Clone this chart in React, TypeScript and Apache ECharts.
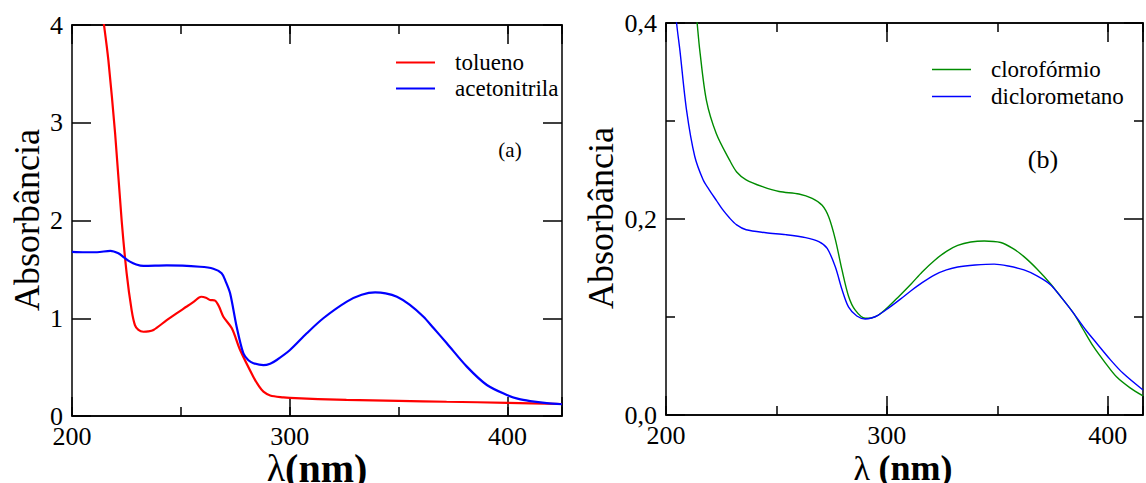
import React, { useEffect, useRef } from "react";
import * as echarts from "echarts";

const FONT = "'Liberation Serif', 'Times New Roman', Times, 'DejaVu Serif', serif";

// (a) left panel: wavelength (nm), absorbance
const tolueno: number[][] = [
  [211, 4.6], [214.7, 4.0], [216.7, 3.64], [219.8, 2.89], [222.8, 2.0], [225.1, 1.46],
  [227.4, 1.08], [228.9, 0.93], [230.5, 0.88], [232.8, 0.862], [235, 0.865], [237.4, 0.88],
  [243.5, 0.98], [248, 1.05], [252.7, 1.12], [256, 1.17], [259.3, 1.22], [261.5, 1.21],
  [263.4, 1.187], [265.7, 1.18], [267.5, 1.12], [269.5, 1.016], [273.4, 0.897], [277.2, 0.675],
  [283.3, 0.4], [286, 0.3], [287.9, 0.249], [291, 0.21], [297.1, 0.19], [300, 0.185],
  [326, 0.164], [350, 0.155], [372, 0.146], [400, 0.135], [425, 0.123],
];

const acetonitrila: number[][] = [
  [200, 1.68], [206, 1.675], [211.5, 1.675], [217.6, 1.69], [221.3, 1.664], [224, 1.62],
  [226.6, 1.579], [229.5, 1.55], [232.8, 1.535], [243.5, 1.54], [258.8, 1.527], [264.9, 1.507],
  [268.7, 1.46], [270.5, 1.38], [272.6, 1.255], [275.6, 0.914], [278.7, 0.64], [281, 0.57],
  [283.3, 0.54], [287.9, 0.52], [291, 0.535], [294, 0.573], [300.1, 0.675], [307.8, 0.846],
  [315.4, 1.0], [326.2, 1.17], [333, 1.24], [339.2, 1.265], [344, 1.255], [349.2, 1.22],
  [355, 1.14], [361.4, 1.016], [366, 0.9], [372.1, 0.744], [381.3, 0.505], [390.5, 0.317],
  [399.7, 0.215], [405, 0.175], [410.4, 0.153], [418, 0.132], [425, 0.12],
];

// (b) right panel
const cloroformio: number[][] = [
  [212, 0.45], [214.1, 0.4], [215.3, 0.372], [218.3, 0.321], [222.8, 0.287], [228.8, 0.26],
  [232, 0.248], [236.3, 0.24], [243.7, 0.233], [251.2, 0.228], [260.2, 0.2255], [266.2, 0.221],
  [270.7, 0.214], [273.7, 0.202], [276.7, 0.179], [279.7, 0.148], [282.7, 0.121], [285.7, 0.107],
  [290.2, 0.0987], [293, 0.099], [296.2, 0.102], [300.7, 0.1105], [305, 0.12], [311.1, 0.134],
  [316, 0.146], [321.7, 0.158], [327, 0.167], [332.1, 0.173], [338, 0.1765], [344.1, 0.1776],
  [351.6, 0.176], [357, 0.17], [362.1, 0.1616], [368, 0.149], [374.1, 0.134], [379, 0.12],
  [384.6, 0.1037], [389, 0.087], [393.6, 0.0697], [399, 0.053], [404, 0.039], [410, 0.028],
  [416, 0.0195],
];

const diclorometano: number[][] = [
  [203, 0.45], [204.8, 0.4], [206.3, 0.372], [209.3, 0.311], [213, 0.264], [216.8, 0.24],
  [219.5, 0.23], [222.8, 0.219], [225.5, 0.21], [228.8, 0.201], [232, 0.194], [236.3, 0.189],
  [245.3, 0.186], [254.2, 0.184], [263.2, 0.181], [269.2, 0.177], [273, 0.17], [276.7, 0.151],
  [279.7, 0.128], [282.7, 0.11], [286.4, 0.101], [290.2, 0.098], [293, 0.099], [296.2, 0.102],
  [300.7, 0.109], [306, 0.118], [311.1, 0.127], [316, 0.135], [321.7, 0.143], [327, 0.148],
  [332.1, 0.151], [340, 0.153], [348.6, 0.154], [355, 0.152], [362.1, 0.148], [368, 0.142],
  [374.1, 0.133], [379, 0.12], [384.6, 0.1037], [390, 0.087], [395.1, 0.073], [401, 0.057],
  [407, 0.0425], [416, 0.0255],
];

const xRangeA = [200, 425];
const xRangeB = [200, 416];
const yRangeA = [0, 4];
const yRangeB = [0, 0.4];

const AXIS_COLOR = "#000";
const AXIS_W = 1.5;

function xAxesFor(gridIndex: number, range: number[]) {
  const base = {
    gridIndex,
    type: "value",
    min: range[0],
    max: range[1],
    splitLine: { show: false },
    axisLine: { show: true, onZero: false, lineStyle: { color: AXIS_COLOR, width: AXIS_W } },
  };
  const major = (position: string, labels: boolean) => ({
    ...base,
    position,
    interval: 100,
    axisTick: { show: true, inside: true, length: 19, lineStyle: { color: AXIS_COLOR, width: AXIS_W } },
    axisLabel: labels
      ? {
          show: true,
          margin: 7,
          fontFamily: FONT,
          fontSize: 26,
          color: "#000",
          formatter: (v: number) => (v % 100 === 0 ? String(v) : ""),
        }
      : { show: false },
  });
  const minor = (position: string) => ({
    ...base,
    position,
    interval: 50,
    axisTick: { show: true, inside: true, length: 9, lineStyle: { color: AXIS_COLOR, width: AXIS_W } },
    axisLabel: { show: false },
  });
  return [major("bottom", true), minor("bottom"), major("top", false), minor("top")];
}

function yAxesFor(gridIndex: number, range: number[], interval: number, minor: boolean, fmt: (v: number) => string) {
  const mk = (position: string, labels: boolean) => ({
    gridIndex,
    type: "value",
    position,
    min: range[0],
    max: range[1],
    interval,
    splitLine: { show: false },
    axisLine: { show: true, onZero: false, lineStyle: { color: AXIS_COLOR, width: AXIS_W } },
    axisTick: { show: true, inside: true, length: 19, lineStyle: { color: AXIS_COLOR, width: AXIS_W } },
    minorTick: { show: minor, splitNumber: 2, length: 9, lineStyle: { color: AXIS_COLOR, width: AXIS_W } },
    axisLabel: labels
      ? { show: true, margin: 9, fontFamily: FONT, fontSize: 26, color: "#000", formatter: fmt }
      : { show: false },
  });
  return [mk("left", true), mk("right", false)];
}

export default function App() {
  const ref = useRef<HTMLDivElement>(null);

  useEffect(() => {
    if (!ref.current) return;
    const chart = echarts.init(ref.current, undefined, { renderer: "svg" });

    const legendBase = {
      orient: "vertical",
      icon: "rect",
      itemWidth: 39,
      padding: 0,
      textStyle: { fontFamily: FONT, fontSize: 23, color: "#000", padding: [0, 0, 0, 15] },
      selectedMode: false,
    };

    chart.setOption({
      animation: false,
      backgroundColor: "#fff",
      textStyle: { fontFamily: FONT },
      grid: [
        { left: 72, top: 25, width: 490, height: 391 },
        { left: 666, top: 23, width: 481, height: 392 },
      ],
      xAxis: [...xAxesFor(0, xRangeA), ...xAxesFor(1, xRangeB)],
      yAxis: [
        ...yAxesFor(0, yRangeA, 1, false, (v: number) => String(v)),
        ...yAxesFor(1, yRangeB, 0.2, true, (v: number) => v.toFixed(1).replace(".", ",")),
      ],
      legend: [
        {
          ...legendBase,
          left: 396,
          top: 51,
          itemGap: 3,
          itemHeight: 2,
          data: ["tolueno", "acetonitrila"],
        },
        {
          ...legendBase,
          left: 932,
          top: 58,
          itemGap: 4,
          itemHeight: 1.5,
          data: ["clorofórmio", "diclorometano"],
        },
      ],
      graphic: [
        {
          type: "text",
          x: 27,
          y: 220,
          rotation: Math.PI / 2,
          style: {
            text: "Absorbância",
            font: `36px ${FONT}`,
            fill: "#000",
            align: "center",
            verticalAlign: "middle",
          },
        },
        {
          type: "text",
          x: 601,
          y: 218,
          rotation: Math.PI / 2,
          style: {
            text: "Absorbância",
            font: `36px ${FONT}`,
            fill: "#000",
            align: "center",
            verticalAlign: "middle",
          },
        },
        {
          type: "text",
          x: 317,
          y: 468,
          style: {
            text: "{l|λ}{b|(nm)}",
            align: "center",
            verticalAlign: "middle",
            rich: {
              l: { fontFamily: FONT, fontSize: 38, fill: "#000" },
              b: { fontFamily: FONT, fontSize: 40, fontWeight: "bold", fill: "#000" },
            },
          },
        },
        {
          type: "text",
          x: 903,
          y: 468,
          style: {
            text: "{l|λ }{b|(nm)}",
            align: "center",
            verticalAlign: "middle",
            rich: {
              l: { fontFamily: FONT, fontSize: 34, fill: "#000" },
              b: { fontFamily: FONT, fontSize: 36, fontWeight: "bold", fill: "#000" },
            },
          },
        },
        {
          type: "text",
          x: 510,
          y: 150,
          style: { text: "(a)", font: `21px ${FONT}`, fill: "#000", align: "center", verticalAlign: "middle" },
        },
        {
          type: "text",
          x: 1043,
          y: 159,
          style: { text: "(b)", font: `26px ${FONT}`, fill: "#000", align: "center", verticalAlign: "middle" },
        },
      ],
      series: [
        {
          name: "tolueno",
          type: "line",
          xAxisIndex: 0,
          yAxisIndex: 0,
          data: tolueno,
          showSymbol: false,
          smooth: 0.3,
          clip: true,
          color: "#ff0000",
          lineStyle: { color: "#ff0000", width: 2.2 },
        },
        {
          name: "acetonitrila",
          type: "line",
          xAxisIndex: 0,
          yAxisIndex: 0,
          data: acetonitrila,
          showSymbol: false,
          smooth: 0.3,
          clip: true,
          color: "#0000ff",
          lineStyle: { color: "#0000ff", width: 2.2 },
        },
        {
          name: "clorofórmio",
          type: "line",
          xAxisIndex: 4,
          yAxisIndex: 2,
          data: cloroformio,
          showSymbol: false,
          smooth: 0.3,
          clip: true,
          color: "#008c00",
          lineStyle: { color: "#008c00", width: 1.4 },
        },
        {
          name: "diclorometano",
          type: "line",
          xAxisIndex: 4,
          yAxisIndex: 2,
          data: diclorometano,
          showSymbol: false,
          smooth: 0.3,
          clip: true,
          color: "#0000ff",
          lineStyle: { color: "#0000ff", width: 1.4 },
        },
      ],
    });

    return () => chart.dispose();
  }, []);

  return (
    <div
      ref={ref}
      style={{ position: "absolute", left: 0, top: 0, width: 1146, height: 483, background: "#fff" }}
    />
  );
}
